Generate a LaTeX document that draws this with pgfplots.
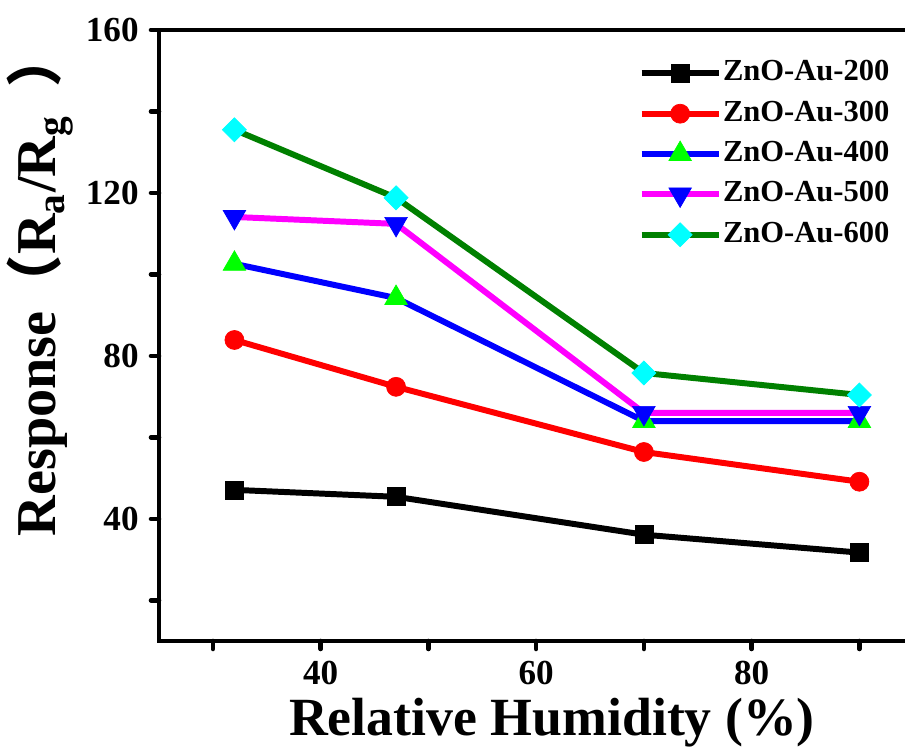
\documentclass[border=0pt]{standalone}
\usepackage{fontspec}
\setmainfont{Liberation Serif}
\newfontfamily\cjk{Noto Sans CJK SC}
\usepackage{pgfplots}
\pgfplotsset{compat=1.18}
\definecolor{lin600}{RGB}{0,128,0}
\definecolor{lime}{RGB}{0,255,0}
\definecolor{mag}{RGB}{255,0,255}
\definecolor{cya}{RGB}{0,255,255}
\definecolor{blu}{RGB}{0,0,255}
\definecolor{rd}{RGB}{255,0,0}
\begin{document}
\begin{tikzpicture}
\useasboundingbox (0,0) rectangle (90.5mm,75.6mm);
\clip (0,0) rectangle (90.5mm,75.6mm);
\begin{axis}[
 at={(15.9mm,11.5mm)}, anchor=south west,
 scale only axis, width=75.43mm, height=61.1mm,
 xmin=25, xmax=95, ymin=10, ymax=160,
 xtick={40,60,80}, minor xtick={30,50,70,90},
 ytick={40,80,120,160}, minor ytick={20,60,100,140},
 tick pos=left, tick align=outside,
 major tick length=0.8mm, minor tick length=0.8mm,
 every tick/.append style={line width=1.3pt, black, line cap=round},
 every minor tick/.append style={line width=1.3pt, black, line cap=round},
 axis line style={line width=1.4pt},
 /pgf/number format/assume math mode=true,
 ticklabel style={font=\bfseries\fontsize{10pt}{12pt}\selectfont},
 xlabel={Relative Humidity (\%)},
 xlabel style={at={(axis description cs:0.521,-0.154)}, anchor=base, font=\bfseries\fontsize{15.3pt}{18pt}\selectfont},
 ylabel={Response{\cjk （}R\textsubscript{a}/R\textsubscript{g}\hspace{0.5em}{\cjk ）}},
 ylabel style={at={(axis description cs:-0.158,0.585)}, anchor=center, font=\bfseries\fontsize{16pt}{19pt}\selectfont},
 legend style={at={(0.621,0.965)}, anchor=north west, draw=none, fill=none,
   font=\bfseries\fontsize{8.7pt}{10pt}\selectfont, row sep=3.4pt,
   nodes={inner sep=0.4pt}, cells={anchor=west}},
 legend image code/.code={\draw[#1, mark repeat=2, mark phase=2] plot coordinates {(0mm,0mm)(3.85mm,0mm)(7.7mm,0mm)};},
]
\addplot[black, line width=1.7pt, mark=square*, mark size=0.9mm, mark options={solid, fill=black, draw=black, line width=0.2pt}]
 coordinates {(32,47.1)(47,45.4)(70,36.1)(90,31.7)};
\addlegendentry{ZnO-Au-200}
\addplot[rd, line width=1.7pt, mark=*, mark size=0.95mm, mark options={solid, fill=rd, draw=rd, line width=0.2pt}]
 coordinates {(32,83.9)(47,72.4)(70,56.4)(90,49.1)};
\addlegendentry{ZnO-Au-300}
\addplot[blu, line width=1.7pt, mark=triangle*, mark size=1.3mm, mark options={solid, fill=lime, draw=lime, line width=0.2pt}]
 coordinates {(32,102.6)(47,94.2)(70,64.0)(90,64.0)};
\addlegendentry{ZnO-Au-400}
\addplot[mag, line width=1.7pt, mark=triangle*, mark size=1.3mm, mark options={solid, fill=blu, draw=blu, line width=0.2pt, rotate=180}]
 coordinates {(32,114.1)(47,112.4)(70,66.0)(90,66.0)};
\addlegendentry{ZnO-Au-500}
\addplot[lin600, line width=1.7pt, mark=square*, mark size=0.85mm, mark options={solid, fill=cya, draw=cya, line width=0.2pt, rotate=45}]
 coordinates {(32,135.5)(47,118.8)(70,75.8)(90,70.4)};
\addlegendentry{ZnO-Au-600}
\end{axis}
\end{tikzpicture}
\end{document}
